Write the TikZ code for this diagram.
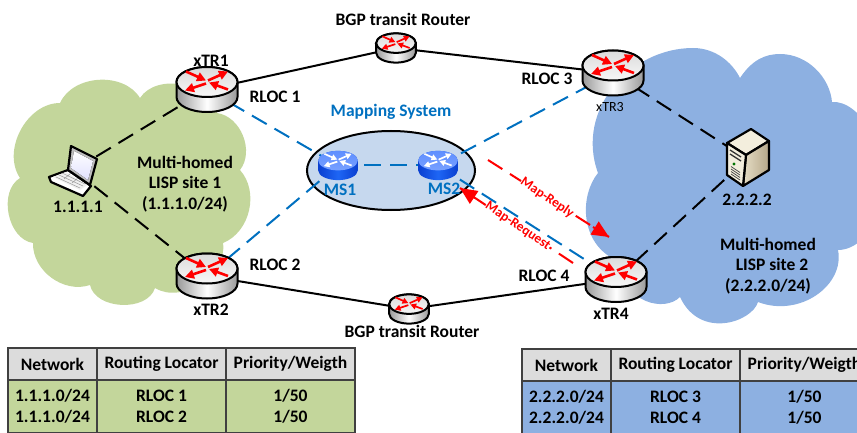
\documentclass[tikz,border=0pt]{standalone}
\usepackage{fontspec}
\setmainfont{Carlito}
\usetikzlibrary{arrows.meta,shapes.geometric}
\definecolor{greencloud}{HTML}{C3D69B}
\definecolor{bluecloud}{HTML}{8DB0E1}
\definecolor{msfill}{HTML}{C6D8EE}
\definecolor{lineblue}{HTML}{0070C0}
\definecolor{headgray}{HTML}{DCDCDC}
\definecolor{tabline}{HTML}{404040}
\definecolor{srvlight}{HTML}{F3EEDD}
\definecolor{srvmid}{HTML}{E6DEC6}
\definecolor{srvdark}{HTML}{B5A688}
\definecolor{mslight}{HTML}{5F8FFF}
\definecolor{msdark}{HTML}{0A3FD0}
\definecolor{msmid}{HTML}{1E66F5}
\tikzset{
  slot/.style={minimum width=#1,inner sep=0pt,outer sep=0pt},
  lbl/.style={font=\fontsize{17.5}{20}\selectfont\bfseries,align=center,inner sep=0pt},
  solidlink/.style={black,line width=2pt},
  blacklink/.style={black,line width=2pt,dash pattern=on 17pt off 9pt},
  bluelink/.style={lineblue,line width=2pt,dash pattern=on 17pt off 9pt},
  redlink/.style={red,line width=2pt,dash pattern=on 17pt off 9pt},
  redtip/.style={-{Triangle[length=17pt,width=15pt]}},
  redlbl/.style={font=\fontsize{13.5}{15}\selectfont\bfseries,text=red,fill=white,inner sep=.5pt,rotate=-34},
  rbody/.style={draw=black,line width=2pt,left color=black!40,right color=black!40,middle color=white},
  rtop/.style={draw=black,line width=2pt,top color=black!14,bottom color=black!3},
  mbody/.style={left color=msdark,right color=msdark,middle color=msmid},
  mtop/.style={top color=mslight,bottom color=mslight!85!white},
  cellbox/.style={draw=tabline,line width=1.5pt,inner sep=0pt,outer sep=0pt,align=center,font=\fontsize{17.5}{21}\selectfont\bfseries},
  headcell/.style={cellbox,fill=headgray,minimum height=32pt},
  greencell/.style={cellbox,fill=greencloud,minimum height=53pt},
  bluecell/.style={cellbox,fill=bluecloud,minimum height=53pt}
}
% #1 node, #2 scale, #3 body style, #4 top style, #5 arrow colour
\newcommand\routericon[5]{%
  \begin{scope}[shift={(#1.center)},scale=#2]
    \pgfmathsetmacro\rtlw{2.6*#2}
    \pgfmathsetmacro\rtlen{9*#2}
    \path[#3] (-30.5,-7.5) -- (-30.5,7.5) .. controls (-30.5,15.8) and (-16.8,22.5) .. (0,22.5)
      .. controls (16.8,22.5) and (30.5,15.8) .. (30.5,7.5) -- (30.5,-7.5)
      .. controls (30.5,-15.8) and (16.8,-22.5) .. (0,-22.5)
      .. controls (-16.8,-22.5) and (-30.5,-15.8) .. cycle;
    \path[#4] (-30.5,-7.5) .. controls (-30.5,0.8) and (-16.8,7.5) .. (0,7.5)
      .. controls (16.8,7.5) and (30.5,0.8) .. (30.5,-7.5)
      .. controls (30.5,-15.8) and (16.8,-22.5) .. (0,-22.5)
      .. controls (-16.8,-22.5) and (-30.5,-15.8) .. cycle;
    \begin{scope}[#5,line width=\rtlw pt,-{Triangle[length=\rtlen pt,width=\rtlen pt]}]
      \draw (-21,-18) -- (-1,-9);
      \draw (1,-9) -- (21,-18);
      \draw (21,0) -- (2,-7);
      \draw (-1,-6) -- (-22,1);
    \end{scope}
  \end{scope}}
\begin{document}
\begin{tikzpicture}[x=1pt,y=-1pt]
\clip (0,0) rectangle (857,433);
% clouds
\fill[greencloud] (60,103) to[bend left=62] (140,98) to[bend left=68] (217,113)
  to[bend left=60] (240,170) to[bend left=55] (223,243) to[bend left=65] (155,288)
  to[bend left=75] (90,285) to[bend left=55] (33,243) to[bend left=70] (20,178)
  to[bend left=62] cycle;
\fill[bluecloud] (598,173) .. controls (575,110) and (630,48) .. (693,48)
  .. controls (715,48) and (732,62) .. (740,78)
  .. controls (752,60) and (765,54) .. (780,54)
  .. controls (808,54) and (830,78) .. (832,102)
  .. controls (860,100) and (890,150) .. (880,190)
  .. controls (880,225) and (860,250) .. (838,250)
  .. controls (845,285) and (800,318) .. (758,302)
  .. controls (752,322) and (700,340) .. (680,297)
  .. controls (665,312) and (625,305) .. (612,258)
  .. controls (580,240) and (580,195) .. (598,173) -- cycle;
% mapping system ellipse
\node[ellipse,draw=black,line width=2pt,fill=msfill,minimum width=168pt,minimum height=79pt,inner sep=0pt] (mapsys) at (391,170.5) {};
% node places
\node[slot=61pt,minimum height=45pt] (xtr1) at (207,89.5) {};
\node[slot=61pt,minimum height=45pt] (xtr2) at (207,276) {};
\node[slot=61pt,minimum height=45pt] (xtr3) at (613,73) {};
\node[slot=61pt,minimum height=45pt] (xtr4) at (616,279.5) {};
\node[slot=40pt,minimum height=29pt] (bgpa) at (396,48) {};
\node[slot=40pt,minimum height=29pt] (bgpb) at (409,309) {};
\node[slot=40pt,minimum height=29pt] (ms1) at (338,165.5) {};
\node[slot=40pt,minimum height=29pt] (ms2) at (438,165.5) {};
\node[slot=48pt,minimum height=48pt] (laptop) at (74,170) {};
\node[slot=40pt,minimum height=57pt] (server) at (747,159) {};
\coordinate (replyA) at (488,160);
\coordinate (replyB) at (609,237);
\coordinate (reqA) at (573,263);
\coordinate (reqB) at (460,188);
% links
\draw[solidlink] (xtr1.center) -- (bgpa.center);
\draw[solidlink] (bgpa.center) -- (xtr3.center);
\draw[solidlink] (xtr2.center) -- (bgpb.center);
\draw[solidlink] (bgpb.center) -- (xtr4.center);
\draw[blacklink] (laptop.center) -- (xtr1.center);
\draw[blacklink] (laptop.center) -- (xtr2.center);
\draw[blacklink] (xtr3.center) -- (server.center);
\draw[blacklink] (xtr4.center) -- (server.center);
\draw[bluelink] (xtr1.center) -- (ms1.center);
\draw[bluelink] (xtr2.center) -- (ms1.center);
\draw[bluelink] (ms1.center) -- (ms2.center);
\draw[bluelink] (ms2.center) -- (xtr3.center);
\draw[bluelink] (ms2.center) -- (xtr4.center);
% red messages
\draw[redlink] (replyA) -- (replyB) node[pos=.49,redlbl] (replylbl) {Map-Reply};
\draw[red,line width=2pt,redtip] (593,227) -- (replyB);
\draw[redlink] (reqA) -- (reqB) node[pos=.49,redlbl] (reqlbl) {Map-Request};
\draw[red,line width=2pt,redtip] (475,198) -- (reqB);
% routers
\routericon{xtr1}{1}{rbody}{rtop}{red}
\routericon{xtr2}{1}{rbody}{rtop}{red}
\routericon{xtr3}{1}{rbody}{rtop}{red}
\routericon{xtr4}{1}{rbody}{rtop}{red}
\routericon{bgpa}{0.65}{rbody}{rtop}{red}
\routericon{bgpb}{0.65}{rbody}{rtop}{red}
\routericon{ms1}{0.65}{mbody}{mtop}{white}
\routericon{ms2}{0.65}{mbody}{mtop}{white}
% laptop
\fill[white,draw=black,line width=2.2pt,line join=round] (68,170) -- (49,177) -- (51,182) -- (83,196) -- (91,186) -- cycle;
\fill[black!6] (66,172) -- (53,177) -- (80,190) -- (87,185) -- cycle;
\draw[black!40,line width=.5pt] (59,175) -- (83,186) (62,173) -- (85,184) (56,177) -- (80,188) (64,179) -- (71,173) (72,183) -- (79,177);
\draw[black,line width=2.2pt,line join=round,top color=black!25,bottom color=black!25] (71,146) -- (97,159) -- (90,185) -- (68,170) -- cycle;
\fill[top color=white,bottom color=blue!12] (74,151) -- (93,161) -- (88,180) -- (71,168) -- cycle;
% server
\draw[black,line width=2.2pt,line join=round,fill=srvlight] (751,129) -- (769,141) -- (746,155) -- (727,143) -- cycle;
\draw[black,line width=2.2pt,line join=round,left color=srvmid,right color=srvdark] (746,155) -- (769,141) -- (769,170) -- (743,186) -- cycle;
\draw[black,line width=2.2pt,line join=round,fill=srvlight] (727,143) -- (746,155) -- (743,186) -- (727,175) -- cycle;
\draw[black!80,line width=1.3pt] (730,150) -- (741,157) (730,154) -- (741,161);
\draw[black!70,line width=.8pt] (731,169) -- (740,175) (731,171.5) -- (740,177.5) (731,174) -- (740,180) (731,166.5) -- (740,172.5);
\fill[green!45!black] (734,164) circle (1.6);
% labels
\node[lbl] (lbga) at (403,19) {BGP transit Router};
\node[lbl] (lbgb) at (412,331) {BGP transit Router};
\node[lbl] (l1) at (211,61) {xTR1};
\node[lbl] (l2) at (211,310) {xTR2};
\node[inner sep=0pt,font=\fontsize{14}{16}\selectfont] (l3) at (610,107) {xTR3};
\node[lbl] (l4) at (611,314) {xTR4};
\node[lbl] (r1) at (275,97) {RLOC 1};
\node[lbl] (r2) at (275,265) {RLOC 2};
\node[lbl] (r3) at (547,79) {RLOC 3};
\node[lbl] (r4) at (544,276) {RLOC 4};
\node[lbl,text=lineblue] (lmap) at (391,112) {Mapping System};
\node[lbl,text=lineblue] (lms1) at (340,190) {MS1};
\node[lbl,text=lineblue] (lms2) at (444,189) {MS2};
\node[lbl] (ip1) at (78,207) {1.1.1.1};
\node[lbl] (ip2) at (747,200) {2.2.2.2};
\node[lbl,font=\fontsize{17.5}{20.7}\selectfont\bfseries] (site1) at (185,184) {Multi-homed\\LISP site 1\\(1.1.1.0/24)};
\node[lbl,font=\fontsize{17.5}{20.7}\selectfont\bfseries] (site2) at (768,266) {Multi-homed\\\ \ LISP site 2\\(2.2.2.0/24)};
% tables
\node[headcell,minimum width=89pt] (ta1) at (52.5,364) {Network};
\node[headcell,minimum width=129pt] (ta2) at (161.5,364) {Routing Locator};
\node[headcell,minimum width=129pt] (ta3) at (290.5,364) {Priority/Weigth};
\node[greencell,minimum width=89pt] (tb1) at (52.5,406.5) {1.1.1.0/24\\1.1.1.0/24};
\node[greencell,minimum width=129pt] (tb2) at (161.5,406.5) {RLOC 1\\RLOC 2};
\node[greencell,minimum width=129pt] (tb3) at (290.5,406.5) {1/50\\1/50};
\node[headcell,minimum width=89pt] (tc1) at (566.5,365) {Network};
\node[headcell,minimum width=129pt] (tc2) at (675.5,365) {Routing Locator};
\node[headcell,minimum width=129pt] (tc3) at (804.5,365) {Priority/Weigth};
\node[bluecell,minimum width=89pt] (td1) at (566.5,407.5) {2.2.2.0/24\\2.2.2.0/24};
\node[bluecell,minimum width=129pt] (td2) at (675.5,407.5) {RLOC 3\\RLOC 4};
\node[bluecell,minimum width=129pt] (td3) at (804.5,407.5) {1/50\\1/50};
\end{tikzpicture}
\end{document}
